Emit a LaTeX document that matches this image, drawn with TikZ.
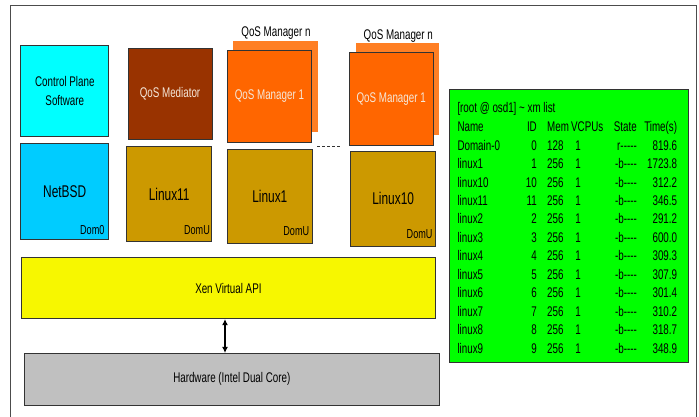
\documentclass[tikz,border=0pt]{standalone}
\usepackage{fontspec}
\setmainfont{Liberation Sans}[FakeStretch=0.7]
\usetikzlibrary{arrows.meta}
\definecolor{cpscyan}{HTML}{00FFFF}
\definecolor{bsdblue}{HTML}{00CCFF}
\definecolor{medbrown}{HTML}{993300}
\definecolor{linuxgold}{HTML}{CC9900}
\definecolor{mgrorange}{HTML}{FF6600}
\definecolor{mgrlight}{HTML}{FF7F24}
\definecolor{xenyellow}{HTML}{F7F700}
\definecolor{hwgrey}{HTML}{C0C0C0}
\definecolor{xmgreen}{HTML}{00FF00}
\definecolor{edge}{HTML}{333333}
\definecolor{lighttxt}{HTML}{F5E8DA}
\tikzset{
  blk/.style={draw=edge, line width=0.8pt, inner sep=0pt, align=center},
  txtsm/.style={font=\fontsize{14}{18.7}\selectfont},
  txtbig/.style={font=\fontsize{17}{20}\selectfont},
  domtag/.style={font=\fontsize{13}{15}\selectfont, inner sep=0pt, anchor=base east},
  tbl/.style={font=\fontsize{14}{18.44}\selectfont, inner sep=0pt},
}
\begin{document}
\begin{tikzpicture}[x=1pt,y=-1pt]
\useasboundingbox (0,0) rectangle (699,417);
% outer frame
\draw[black!70, line width=1pt] (10.7,417) -- (10.7,6) -- (696,6) -- (696,417);

% Dom0
\node[blk, txtsm, fill=cpscyan, minimum width=88pt, minimum height=91pt] (cps) at (64.8,91.2) {Control Plane\\Software};
\node[blk, txtbig, fill=bsdblue, minimum width=88pt, minimum height=96pt] (bsd) at (64.7,191.3) {NetBSD};
\node[domtag] (bsdtag) at ([shift={(-4.5,-5.5)}]bsd.south east) {Dom0};

% mediator domain
\node[blk, txtsm, fill=medbrown, text=lighttxt, minimum width=84pt, minimum height=91pt] (med) at (170,93.6) {QoS Mediator};
\node[blk, txtbig, fill=linuxgold, minimum width=85pt, minimum height=95pt] (lx11) at (169.2,194.2) {Linux11};
\node[domtag] (lx11tag) at ([shift={(-2,-8)}]lx11.south east) {DomU};

% manager domains
\node[fill=mgrlight, inner sep=0pt, minimum width=84.7pt, minimum height=91.6pt] (mgrnA) at (275.4,86.5) {};
\node[txtsm, inner sep=0pt] (mgrnAlbl) at (276,33.3) {QoS Manager n};
\node[blk, txtsm, fill=mgrorange, text=lighttxt, minimum width=84.7pt, minimum height=91.6pt] (mgrA) at (269.4,96.5) {QoS Manager 1};
\node[blk, txtbig, fill=linuxgold, minimum width=85pt, minimum height=94pt] (lx1) at (269.8,196.3) {Linux1};
\node[domtag] (lx1tag) at ([shift={(-3.3,-8)}]lx1.south east) {DomU};

\node[fill=mgrlight, inner sep=0pt, minimum width=83.6pt, minimum height=92.3pt] (mgrnB) at (397.5,88.9) {};
\node[txtsm, inner sep=0pt] (mgrnBlbl) at (398.3,36) {QoS Manager n};
\node[blk, txtsm, fill=mgrorange, text=lighttxt, minimum width=84.3pt, minimum height=92.7pt] (mgrB) at (391.2,98.7) {QoS Manager 1};
\node[blk, txtbig, fill=linuxgold, minimum width=85pt, minimum height=94.3pt] (lx10) at (393.2,198.9) {Linux10};
\node[domtag] (lx10tag) at ([shift={(-3.4,-8)}]lx10.south east) {DomU};

\coordinate (dotsA) at (317,146.7);
\coordinate (dotsB) at (341.7,146.7);
\draw[edge, line width=0.9pt, dash pattern=on 3pt off 2pt] (dotsA) -- (dotsB);

% hypervisor and hardware
\node[blk, txtsm, fill=xenyellow, minimum width=414.7pt, minimum height=61.4pt] (xen) at (228.4,288) {Xen Virtual API};
\node[blk, txtsm, fill=hwgrey, minimum width=415pt, minimum height=51.7pt] (hw) at (231.8,379.2) {Hardware (Intel Dual Core)};
\draw[{Latex[length=6pt,width=6pt]}-{Latex[length=6pt,width=6pt]}, line width=1.6pt] ([xshift=-3.4pt]xen.south) -- ([xshift=-3.4pt]xen.south |- hw.north);

% xm list output (multi-line nodes sit on their last baseline)
\node[blk, fill=xmgreen, minimum width=239.3pt, minimum height=273pt] (xm) at (568.7,225.5) {};
\node[tbl, anchor=base west] (prompt) at (457.3,113) {[root @ osd1] \textasciitilde{} xm list};
\node[tbl, anchor=base west, align=left] (colname) at (457.3,353) {Name\\Domain-0\\linux1\\linux10\\linux11\\linux2\\linux3\\linux4\\linux5\\linux6\\linux7\\linux8\\linux9};
\node[tbl, anchor=base east, align=right] (colid) at (537,353) {ID\\0\\1\\10\\11\\2\\3\\4\\5\\6\\7\\8\\9};
\node[tbl, anchor=base west, align=left] (colmem) at (547,353) {Mem\\128\\256\\256\\256\\256\\256\\256\\256\\256\\256\\256\\256};
\node[tbl, anchor=base west] (hdrcpu) at (571,131.7) {VCPUs};
\node[tbl, anchor=base, align=center] (colcpu) at (578,353) {1\\1\\1\\1\\1\\1\\1\\1\\1\\1\\1\\1};
\node[tbl, anchor=base east, align=right] (colstate) at (637,353) {State\\r-{}-{}-{}-{}-\\-b-{}-{}-{}-\\-b-{}-{}-{}-\\-b-{}-{}-{}-\\-b-{}-{}-{}-\\-b-{}-{}-{}-\\-b-{}-{}-{}-\\-b-{}-{}-{}-\\-b-{}-{}-{}-\\-b-{}-{}-{}-\\-b-{}-{}-{}-\\-b-{}-{}-{}-};
\node[tbl, anchor=base east, align=right] (coltime) at (677.3,353) {Time(s)\\819.6\\1723.8\\312.2\\346.5\\291.2\\600.0\\309.3\\307.9\\301.4\\310.2\\318.7\\348.9};
\end{tikzpicture}
\end{document}
